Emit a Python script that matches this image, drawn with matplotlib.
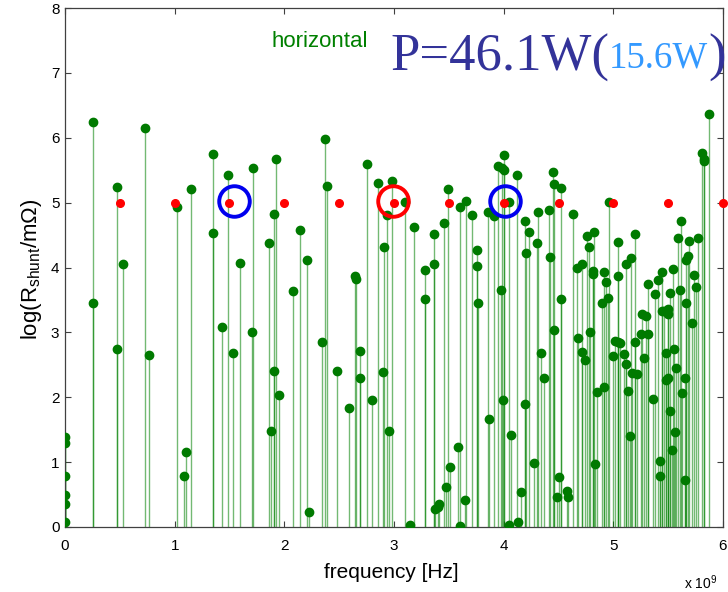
import matplotlib
matplotlib.use("Agg")
import matplotlib.pyplot as plt

# ---- data (frequency in GHz, value = log(R_shunt / mOhm)) ----
freq_ghz = [0.0, 0.0, 0.0, 0.0, 0.0, 0.0,
            0.258, 0.258, 0.471, 0.471, 0.532, 0.729, 0.766, 1.018, 1.085, 1.100, 1.149,
            1.352, 1.352, 1.434, 1.489, 1.528, 1.598, 1.702, 1.717, 1.863, 1.875, 1.902,
            1.908, 1.926, 1.954, 2.081, 2.145, 2.209, 2.224, 2.346, 2.370, 2.385, 2.482,
            2.589, 2.644, 2.656, 2.692, 2.692, 2.750, 2.801, 2.856, 2.902, 2.911, 2.938,
            2.956, 2.984, 3.100, 3.145, 3.184, 3.282, 3.282, 3.361, 3.361, 3.376, 3.398,
            3.412, 3.458, 3.476, 3.494, 3.512, 3.585, 3.598, 3.603, 3.646, 3.652, 3.710,
            3.756, 3.756, 3.768, 3.860, 3.868, 3.908, 3.950, 3.980, 3.986, 3.995, 4.002,
            4.002, 4.048, 4.048, 4.066, 4.118, 4.127, 4.154, 4.193, 4.193, 4.202, 4.233,
            4.278, 4.300, 4.312, 4.339, 4.364, 4.415, 4.418, 4.451, 4.460, 4.460, 4.488,
            4.503, 4.524, 4.527, 4.573, 4.588, 4.628, 4.665, 4.679, 4.716, 4.716, 4.740,
            4.761, 4.777, 4.786, 4.813, 4.813, 4.822, 4.831, 4.847, 4.897, 4.916, 4.916,
            4.937, 4.952, 4.962, 4.998, 5.014, 5.038, 5.038, 5.044, 5.060, 5.096, 5.120,
            5.120, 5.135, 5.150, 5.162, 5.172, 5.199, 5.199, 5.220, 5.248, 5.260, 5.284,
            5.296, 5.318, 5.318, 5.363, 5.376, 5.406, 5.424, 5.424, 5.440, 5.440, 5.464,
            5.479, 5.479, 5.500, 5.500, 5.500, 5.521, 5.521, 5.539, 5.545, 5.554, 5.563,
            5.575, 5.591, 5.606, 5.618, 5.627, 5.649, 5.658, 5.667, 5.667, 5.679, 5.691,
            5.721, 5.739, 5.757, 5.772, 5.809, 5.824, 5.824, 5.870]
log_r = [1.39, 1.29, 0.78, 0.49, 0.35, 0.07,
         6.24, 3.45, 5.24, 2.74, 4.06, 6.15, 2.65, 4.93, 0.78, 1.15, 5.21,
         5.75, 4.53, 3.08, 5.42, 2.68, 4.07, 3.00, 5.54, 4.37, 1.48, 4.82,
         2.41, 5.67, 2.04, 3.64, 4.58, 4.11, 0.23, 2.85, 5.98, 5.26, 2.40,
         1.84, 3.87, 3.83, 2.72, 2.29, 5.60, 1.95, 5.30, 2.39, 4.32, 4.81,
         1.48, 5.34, 5.01, 0.03, 4.63, 3.96, 3.51, 4.51, 4.05, 0.27, 0.31,
         0.35, 4.69, 0.61, 5.21, 0.93, 1.24, 4.94, 0.02, 0.42, 5.03, 4.81,
         4.27, 4.03, 3.46, 4.85, 1.66, 4.79, 5.57, 3.65, 5.53, 1.95, 5.74,
         5.50, 5.01, 0.03, 1.42, 5.42, 0.08, 0.54, 4.71, 1.90, 4.22, 4.54,
         0.98, 4.38, 4.86, 2.68, 2.30, 4.88, 4.16, 5.47, 5.29, 3.03, 0.47,
         0.77, 5.22, 3.51, 0.56, 0.47, 4.82, 3.99, 2.92, 4.06, 2.70, 2.57,
         4.48, 4.31, 3.00, 3.95, 3.90, 4.55, 0.97, 2.08, 3.46, 3.93, 2.16,
         3.78, 3.53, 5.01, 2.64, 2.86, 3.87, 2.85, 4.39, 2.83, 2.67, 4.06,
         2.51, 2.10, 1.40, 4.14, 2.38, 4.52, 2.85, 2.36, 2.97, 3.28, 2.61,
         3.25, 2.97, 3.75, 1.98, 3.59, 3.80, 1.02, 0.79, 3.93, 3.33, 3.33,
         2.68, 2.26, 3.36, 3.28, 2.29, 3.61, 1.79, 1.19, 3.98, 2.74, 1.46,
         2.45, 4.46, 3.65, 4.72, 2.06, 0.73, 2.29, 3.45, 4.11, 4.18, 4.41,
         3.14, 3.89, 3.70, 4.46, 5.76, 5.64, 5.68, 6.37]

ref_freq_ghz = [0.5, 1.0, 1.5, 2.0, 2.5, 3.0, 3.5, 4.0, 4.5, 5.0, 5.5, 6.0]
ref_level = [5, 5, 5, 5, 5, 5, 5, 5, 5, 5, 5, 5]

blue_circle_freq_ghz = [1.54, 4.01]
red_circle_freq_ghz = [2.99]
circle_level = 5.03

x_ticks = [0, 1, 2, 3, 4, 5, 6]
y_ticks = [0, 1, 2, 3, 4, 5, 6, 7, 8]

# ---- figure ----
plt.rcParams['font.family'] = ['Liberation Sans', 'DejaVu Sans']
plt.rcParams['mathtext.fontset'] = 'custom'
plt.rcParams['mathtext.rm'] = 'Liberation Sans'
plt.rcParams['mathtext.it'] = 'Liberation Sans'

fig = plt.figure(figsize=(7.28, 5.92), dpi=100)
ax = fig.add_axes([65/728, 1 - 527/592, (723-65)/728, (527-8)/592])

hz = [f * 1e9 for f in freq_ghz]
ax.vlines(hz, 0, log_r, colors='#008000', alpha=0.55, linewidth=1.0, zorder=2)
ax.plot(hz, log_r, linestyle='none', marker='o', markersize=6,
        color='#007a00', markeredgecolor='#007a00', zorder=3)

ax.plot([f * 1e9 for f in ref_freq_ghz], ref_level, linestyle='none', marker='o',
        markersize=5.5, color='#ff0000', markeredgecolor='#ff0000', zorder=4,
        clip_on=False)

ax.plot([f * 1e9 for f in blue_circle_freq_ghz], [circle_level]*len(blue_circle_freq_ghz),
        linestyle='none', marker='o', markersize=22, markerfacecolor='none',
        markeredgecolor='#0000ee', markeredgewidth=2.8, zorder=5)
ax.plot([f * 1e9 for f in red_circle_freq_ghz], [circle_level]*len(red_circle_freq_ghz),
        linestyle='none', marker='o', markersize=22, markerfacecolor='none',
        markeredgecolor='#ff0000', markeredgewidth=2.8, zorder=5)

ax.set_xlim(0, 6e9)
ax.set_ylim(0, 8)
ax.set_xticks([t * 1e9 for t in x_ticks])
ax.set_xticklabels([str(t) for t in x_ticks], fontsize=11)
ax.set_yticks(y_ticks)
ax.set_yticklabels([str(t) for t in y_ticks], fontsize=11)
ax.tick_params(direction='in', top=True, right=True, length=4, width=0.8,
               colors='#404040', labelcolor='black')
ax.tick_params(axis='x', pad=9)
ax.tick_params(axis='y', pad=4)
for s in ax.spines.values():
    s.set_color('#404040')
    s.set_linewidth(0.9)

fig.text((318 + 465) / 2 / 728, 1 - 578/592, 'frequency [Hz]', fontsize=15,
         ha='center', va='baseline')
fig.text(31/728, 1 - 269/592, r'log(R$_{\mathregular{shunt}}$/m$\Omega$)',
         fontsize=16, ha='center', va='center', rotation=90)
fig.text(684/728, 1 - 589/592, r'x 10$^{\mathregular{9}}$', fontsize=10, ha='left',
         va='baseline')

ax.text(1.88e9, 7.40, 'horizontal', color='#008000', fontsize=16, ha='left',
        va='baseline')
ax.text(2.963e9, 7.04, 'P=46.1W(', color='#333399', fontsize=38,
        family='Liberation Serif', ha='left', va='baseline')
ax.text(4.955e9, 7.08, '15.6W', color='#3399ff', fontsize=26.5,
        family='Liberation Serif', ha='left', va='baseline')
ax.text(5.87e9, 7.04, ')', color='#333399', fontsize=38,
        family='Liberation Serif', ha='left', va='baseline', clip_on=False)

fig.savefig('out.png', dpi=100)
